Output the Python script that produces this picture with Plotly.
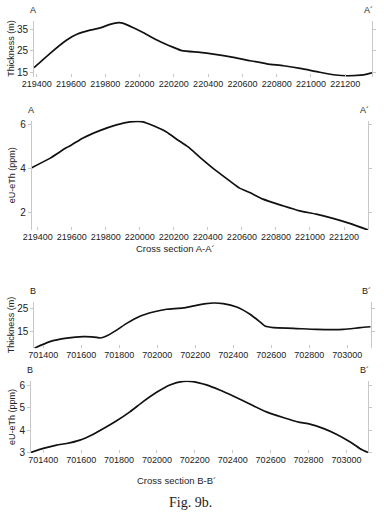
import plotly.graph_objects as go

W, H = 384, 521

# Panel 1: Thickness along A-A'
thick_a_x = [219384, 219478, 219575, 219634, 219711, 219770, 219828, 219877, 219906, 219964,
             220023, 220101, 220198, 220247, 220353, 220431, 220548, 220645, 220743, 220840,
             220937, 221035, 221132, 221210, 221288, 221327, 221356]
thick_a_y = [17.3, 23.9, 30.0, 32.6, 34.5, 35.5, 37.1, 37.9, 37.6, 35.6,
             33.3, 30.0, 26.6, 25.1, 24.3, 23.5, 22.0, 20.5, 19.1, 18.2,
             17.0, 15.5, 14.1, 13.6, 13.9, 14.4, 15.0]

# Panel 2: eU-eTh along A-A'
eu_a_x = [219365, 219472, 219570, 219599, 219667, 219765, 219863, 219941, 220010, 220059,
          220157, 220215, 220284, 220352, 220450, 220528, 220587, 220646, 220724, 220841,
          220939, 221037, 221135, 221233, 221341]
eu_a_y = [4.03, 4.45, 4.94, 5.06, 5.38, 5.71, 5.97, 6.11, 6.12, 6.0,
          5.65, 5.33, 4.97, 4.51, 3.88, 3.43, 3.10, 2.90, 2.60, 2.30,
          2.07, 1.92, 1.73, 1.50, 1.20]

# Panel 3: Thickness along B-B'
thick_b_x = [701353, 701435, 701523, 701611, 701681, 701698, 701733, 701786, 701839, 701909,
             701979, 702049, 702137, 702225, 702295, 702347, 702418, 702488, 702540, 702567,
             702611, 702716, 702839, 702979, 703067, 703123]
thick_b_y = [7.35, 10.3, 11.8, 12.5, 12.2, 11.9, 12.8, 15.4, 18.4, 21.6,
             23.5, 24.7, 25.3, 26.8, 27.5, 27.2, 25.7, 22.5, 19.1, 17.2,
             16.5, 16.2, 15.7, 15.7, 16.5, 16.9]

# Panel 4: eU-eTh along B-B'
eu_b_x = [701335, 701400, 701470, 701523, 701593, 701664, 701734, 701787, 701857, 701927,
          701998, 702068, 702138, 702191, 702261, 702331, 702402, 702490, 702578, 702666,
          702754, 702807, 702877, 702947, 703018, 703070, 703114]
eu_b_y = [3.0, 3.18, 3.33, 3.40, 3.55, 3.82, 4.15, 4.42, 4.82, 5.28,
          5.70, 6.03, 6.19, 6.18, 6.03, 5.80, 5.53, 5.17, 4.82, 4.57,
          4.35, 4.27, 4.08, 3.82, 3.48, 3.18, 3.0]

x_ticks_a = [219400, 219600, 219800, 220000, 220200, 220400, 220600, 220800, 221000, 221200]
x_ticks_b = [701400, 701600, 701800, 702000, 702200, 702400, 702600, 702800, 703000]
y_ticks_thick_a = [15, 25, 35]
y_ticks_eu_a = [2, 4, 6]
y_ticks_thick_b = [15, 25]
y_ticks_eu_b = [3, 4, 5, 6]

panels = [
    (thick_a_x, thick_a_y, x_ticks_a, y_ticks_thick_a, [219384, 221356], [13.2, 38.8], (34, 372, 20.7, 76.7), "Thickness (m)", ("A", "A´"), 11),
    (eu_a_x, eu_a_y, x_ticks_a, y_ticks_eu_a, [219365, 221341], [1.2, 6.16], (31.7, 368, 120.7, 230), "eU-eTh (ppm)", ("A", "A´"), 12),
    (thick_b_x, thick_b_y, x_ticks_b, y_ticks_thick_b, [701353, 703123], [7.3, 27.8], (34.3, 370.7, 302.3, 348.3), "Thickness (m)", ("B", "B´"), 11),
    (eu_b_x, eu_b_y, x_ticks_b, y_ticks_eu_b, [701335, 703114], [2.96, 6.22], (31, 368, 380.7, 453.3), "eU-eTh (ppm)", ("B", "B´"), 12),
]

fig = go.Figure()
annotations = []
FAM = "Liberation Sans, Arial, sans-serif"
COL = "#222"

for i, (xs, ys, xt, yt, xr, yr, box, ytitle, ends, ytx) in enumerate(panels):
    n = "" if i == 0 else str(i + 1)
    l, r, t, b = box
    fig.add_trace(go.Scatter(x=xs, y=ys, mode="lines",
                             line=dict(color="#111", width=1.7, shape="spline", smoothing=0.6),
                             xaxis="x" + n, yaxis="y" + n, showlegend=False, hoverinfo="skip"))
    fig.update_layout(**{
        "xaxis" + n: dict(domain=[l / W, r / W], range=xr, anchor="y" + n,
                          tickvals=xt, ticktext=[str(v) for v in xt],
                          showline=False, showgrid=False, zeroline=False,
                          ticks="inside", ticklen=3, tickcolor="#c8c8c8",
                          tickangle=0, automargin=False,
                          tickfont=dict(family=FAM, size=9, color=COL)),
        "yaxis" + n: dict(domain=[1 - b / H, 1 - t / H], range=yr, anchor="x" + n,
                          tickvals=yt, ticktext=[str(v) for v in yt],
                          showline=True, linecolor="#c8c8c8", linewidth=1, mirror="ticks",
                          showgrid=False, zeroline=False, automargin=False,
                          ticks="outside", ticklen=3, tickcolor="#c8c8c8",
                          tickfont=dict(family=FAM, size=10, color=COL)),
    })
    annotations.append(dict(x=ytx / W, y=1 - ((t + b) / 2) / H, xref="paper", yref="paper",
                            text=ytitle, textangle=-90, showarrow=False,
                            xanchor="center", yanchor="middle",
                            font=dict(family=FAM, size=9, color=COL)))
    annotations.append(dict(x=(l - 1) / W, y=1 - (t - 11) / H, xref="paper", yref="paper",
                            text=ends[0], showarrow=False, xanchor="center", yanchor="middle",
                            font=dict(family=FAM, size=9, color=COL)))
    annotations.append(dict(x=(r - 4) / W, y=1 - (t - 11) / H, xref="paper", yref="paper",
                            text=ends[1], showarrow=False, xanchor="center", yanchor="middle",
                            font=dict(family=FAM, size=9, color=COL)))

annotations.append(dict(x=175 / W, y=1 - 248 / H, xref="paper", yref="paper",
                        text="Cross section A-A´", showarrow=False,
                        font=dict(family=FAM, size=9.5, color=COL)))
annotations.append(dict(x=176 / W, y=1 - 488 / H, xref="paper", yref="paper",
                        text="Cross section B-B´", showarrow=False,
                        font=dict(family=FAM, size=9.5, color=COL)))
annotations.append(dict(x=190 / W, y=1 - 512 / H, xref="paper", yref="paper",
                        text="Fig. 9b.", showarrow=False,
                        font=dict(family="Liberation Serif, Times New Roman, serif", size=14, color=COL)))

fig.update_layout(width=W, height=H, margin=dict(l=0, r=0, t=0, b=0),
                  paper_bgcolor="white", plot_bgcolor="white",
                  annotations=annotations)

fig.write_html("out.html", config={"displayModeBar": False},
               post_script="document.body.style.margin='0';document.body.style.overflow='hidden';")
